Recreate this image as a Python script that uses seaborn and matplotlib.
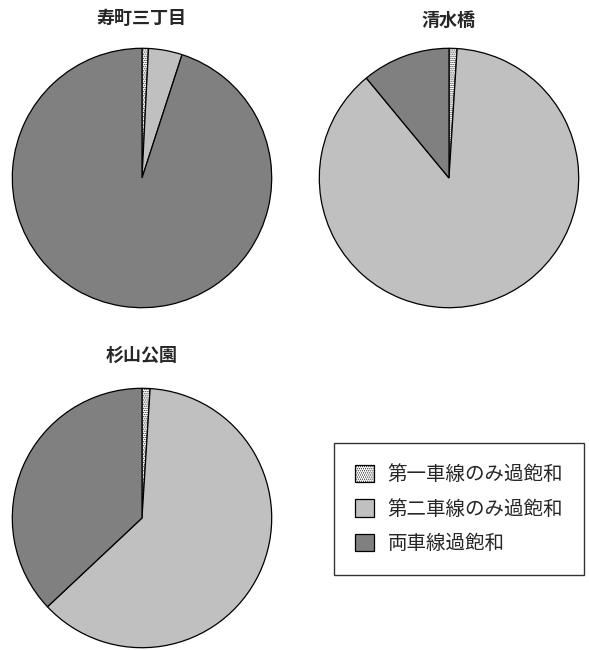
import matplotlib.pyplot as plt
import seaborn as sns
from matplotlib.patches import Patch

sns.set_theme(style="white")
plt.rcParams['font.family'] = ['Noto Sans CJK JP', 'DejaVu Sans']
plt.rcParams['hatch.linewidth'] = 0.5

# data (share of each case, %)
sites = ['寿町三丁目', '清水橋', '杉山公園']
categories = ['第一車線のみ過飽和', '第二車線のみ過飽和', '両車線過飽和']
first_only = [0.8, 1.0, 1.0]
second_only = [4.2, 88.0, 62.0]
both = [95.0, 11.0, 37.0]

colors = ['white', '#c0c0c0', '#808080']
hatches = ['........', '', '']

W, H = 589, 650
fig = plt.figure(figsize=(W / 100, H / 100), dpi=100)

# centre x, centre y (px from top), radius in px
spots = [(142, 178), (449, 178), (142, 518)]
title_y = [18, 20, 355]
r = 131

for i, site in enumerate(sites):
    cx, cy = spots[i]
    ax = fig.add_axes([(cx - r) / W, 1 - (cy + r) / H, 2 * r / W, 2 * r / H])
    vals = [first_only[i], second_only[i], both[i]]
    wedges, _ = ax.pie(vals, colors=colors, startangle=90, counterclock=False,
                       wedgeprops=dict(edgecolor='black', linewidth=0.9))
    for w, h in zip(wedges, hatches):
        w.set_hatch(h)
    ax.set_xlim(-1.01, 1.01)
    ax.set_ylim(-1.01, 1.01)
    ax.set_aspect('equal')
    ax.axis('off')
    fig.text(cx / W, 1 - title_y[i] / H, site, ha='center', va='center',
             fontsize=13, fontweight='bold')

handles = [Patch(facecolor=c, edgecolor='black', hatch=h, linewidth=0.9)
           for c, h in zip(colors, hatches)]
leg = fig.legend(handles, categories, loc='center',
                 bbox_to_anchor=(459 / W, 1 - 509 / H), fontsize=14,
                 frameon=True, fancybox=False, edgecolor='black',
                 handlelength=1.0, handleheight=1.0, labelspacing=0.7,
                 borderpad=1.05, handletextpad=0.7, borderaxespad=0)
leg.get_frame().set_linewidth(1.0)

fig.savefig('out.png', dpi=100, facecolor='white')
